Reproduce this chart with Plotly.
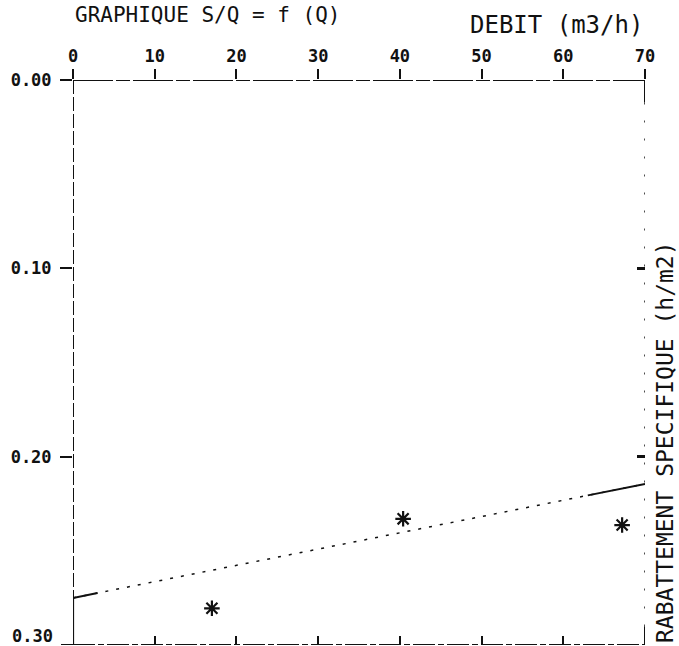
import numpy as np
import plotly.graph_objects as go

# ---- data ----
debit = [17.0, 40.4, 67.2]            # Q (m3/h)
rabattement = [0.2805, 0.233, 0.2363]  # s/Q (h/m2)
fit_x = [0, 70]
fit_y = [0.275, 0.2145]
solid_left = [0, 3]
solid_right = [63, 70]
x_ticks = [0, 10, 20, 30, 40, 50, 60, 70]
x_tick_labels = ["0", "10", "20", "30", "40", "50", "60", "70"]
y_ticks = [0.0, 0.1, 0.2, 0.3]
y_tick_labels = ["0.00", "0.10", "0.20", "0.30"]
bottom_ticks = [10, 20, 30, 40, 50, 60]
right_ticks = [0.1, 0.2]

FONT = "DejaVu Sans Mono"
INK = "#111111"

fig = go.Figure()

# regression line (dotted, solid at its ends)
fig.add_trace(go.Scatter(x=fit_x, y=fit_y, mode="lines",
                         line=dict(color=INK, width=1.5, dash="3px,8px"),
                         showlegend=False, hoverinfo="skip"))
for seg in (solid_left, solid_right):
    fig.add_trace(go.Scatter(x=seg, y=list(np.interp(seg, fit_x, fit_y)),
                             mode="lines", line=dict(color=INK, width=2),
                             showlegend=False, hoverinfo="skip"))

# measured points
fig.add_trace(go.Scatter(x=debit, y=rabattement, mode="markers",
                         marker=dict(symbol="asterisk", size=13,
                                     line=dict(width=2.2, color=INK)),
                         showlegend=False))

# invisible trace for the secondary axes
fig.add_trace(go.Scatter(x=fit_x, y=fit_y, xaxis="x2", yaxis="y2",
                         mode="lines", line=dict(width=0), opacity=0,
                         showlegend=False, hoverinfo="skip"))

tickfont = dict(family=FONT, size=17, color=INK, weight="bold")

fig.update_layout(
    width=679, height=646,
    margin=dict(l=73, r=34, t=80, b=1),
    paper_bgcolor="white", plot_bgcolor="white",
    xaxis=dict(range=[0, 70], side="top", tickmode="array",
               tickvals=x_ticks, ticktext=x_tick_labels,
               ticks="outside", ticklen=10, tickwidth=2, tickcolor=INK,
               showline=False, showgrid=False, zeroline=False,
               tickfont=tickfont, fixedrange=True),
    xaxis2=dict(range=[0, 70], overlaying="x", side="bottom", anchor="y",
                tickmode="array", tickvals=bottom_ticks,
                ticks="inside", ticklen=9, tickwidth=2, tickcolor=INK,
                showticklabels=False, showline=False, showgrid=False,
                zeroline=False),
    yaxis=dict(range=[0.3, 0.0], tickmode="array",
               tickvals=y_ticks[:-1], ticktext=y_tick_labels[:-1],
               ticks="outside", ticklen=12, tickwidth=2, tickcolor=INK,
               ticklabelstandoff=5,
               showline=False, showgrid=False, zeroline=False,
               tickfont=tickfont, fixedrange=True),
    yaxis2=dict(range=[0.3, 0.0], overlaying="y", side="right", anchor="x",
                tickmode="array", tickvals=right_ticks,
                ticks="inside", ticklen=8, tickwidth=2.5, tickcolor=INK,
                showticklabels=False, showline=False, showgrid=False,
                zeroline=False),
    annotations=[
        dict(text="GRAPHIQUE S/Q = f (Q)", xref="paper", yref="paper",
             x=0.0, y=(645 - 1) / 565, xanchor="left", yanchor="top",
             showarrow=False, font=dict(family=FONT, size=21, color=INK)),
        dict(text="DEBIT (m3/h)", xref="paper", yref="paper",
             x=1.0, y=(645 - 25) / 565, xanchor="right", yanchor="middle",
             showarrow=False, font=dict(family=FONT, size=24, color=INK)),
        dict(text="RABATTEMENT SPECIFIQUE (h/m2)", xref="paper", yref="paper",
             x=(665 - 73) / 572, y=(645 - 442) / 565, xanchor="center",
             yanchor="middle", textangle=-90, showarrow=False,
             font=dict(family=FONT, size=23, color=INK)),
        # bottom tick label, lifted so it stays inside the page
        dict(text=y_tick_labels[-1], xref="paper", yref="y",
             x=(55 - 73) / 572, y=y_ticks[-1], xanchor="right", yanchor="bottom",
             yshift=-3, showarrow=False, font=tickfont),
    ],
)

# frame drawn with plotter-like dashes
frame = dict(xref="x", yref="y", type="line")
fig.add_shape(**frame, x0=0, x1=70, y0=0, y1=0, line=dict(color=INK, width=2, dash="40px,3px,14px,3px"))
fig.add_shape(**frame, x0=0, x1=0, y0=0, y1=0.275, line=dict(color=INK, width=2, dash="14px,3px"))
fig.add_shape(**frame, x0=0, x1=0, y0=0.275, y1=0.3, line=dict(color=INK, width=2.2))
fig.add_shape(**frame, x0=70, x1=70, y0=0, y1=0.012, line=dict(color=INK, width=2))
fig.add_shape(**frame, x0=70, x1=70, y0=0.012, y1=0.29, line=dict(color=INK, width=1.5, dash="2px,16px"))
fig.add_shape(**frame, x0=70, x1=70, y0=0.29, y1=0.3, line=dict(color=INK, width=2))
fig.add_shape(**frame, x0=0, x1=70, y0=0.3, y1=0.3, line=dict(color=INK, width=2.2, dash="22px,3px,6px,3px"))
# outside tick for the bottom value of the left axis
fig.add_shape(type="line", xref="paper", yref="y", x0=(61 - 73) / 572, x1=0,
              y0=y_ticks[-1], y1=y_ticks[-1], line=dict(color=INK, width=2))

fig.write_html("out.html", config={"displayModeBar": False},
               post_script="document.body.style.margin='0';")
